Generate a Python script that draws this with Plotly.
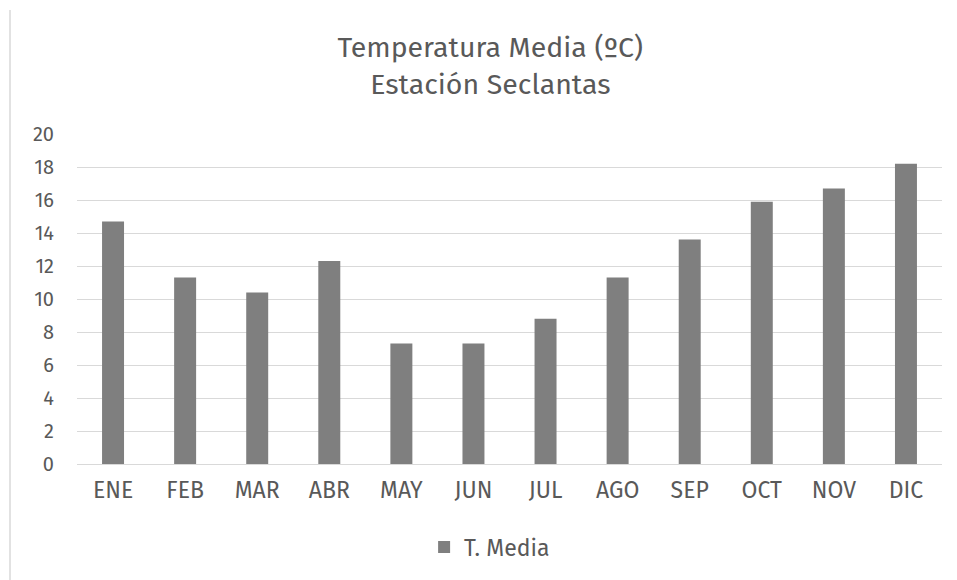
import plotly.graph_objects as go

months = ["ENE", "FEB", "MAR", "ABR", "MAY", "JUN", "JUL", "AGO", "SEP", "OCT", "NOV", "DIC"]
t_media = [14.7, 11.3, 10.4, 12.3, 7.3, 7.3, 8.8, 11.3, 13.6, 15.9, 16.7, 18.2]
y_ticks = [0, 2, 4, 6, 8, 10, 12, 14, 16, 18, 20]

FONT = "Fira Sans, Noto Sans, Open Sans, sans-serif"
TXT = "#595959"

fig = go.Figure()
fig.add_trace(go.Bar(x=months, y=t_media, name="T. Media", marker_color="#7f7f7f",
                     marker_line_width=0))

W, H = 957, 580
L, R, T, B = 69, 23, 126, 124
pw = W - L - R
ph = H - T - B

fig.update_layout(
    width=W, height=H,
    margin=dict(l=L, r=R, t=T, b=B, autoexpand=False),
    paper_bgcolor="white", plot_bgcolor="white",
    bargap=0.695,
    font=dict(family=FONT, color=TXT, size=16),
    title=dict(text="Temperatura Media (ºC)<br>Estación Seclantas",
               x=0.504, xanchor="center", y=0.916, yanchor="middle",
               font=dict(size=28.5, color=TXT, family=FONT)),
    showlegend=True,
    legend=dict(orientation="h", x=0.477, xanchor="center", y=(H - B - 539) / ph,
                yanchor="middle", font=dict(size=23, color=TXT), itemwidth=30),
    xaxis=dict(showgrid=False, showline=False, ticks="", tickfont=dict(size=23, color=TXT),
               ticklabelstandoff=10),
    yaxis=dict(range=[0, 20], tickvals=y_ticks, showgrid=True, gridcolor="#d9d9d9",
               gridwidth=1.3, zeroline=True, zerolinecolor="#d9d9d9", zerolinewidth=1.3,
               showline=False, ticks="", tickfont=dict(size=20, color=TXT),
               ticklabelstandoff=22),
)

# thin gray frame line at left of chart area
fig.add_shape(type="line", xref="paper", yref="paper",
              x0=(2 - L) / pw, x1=(2 - L) / pw,
              y0=(H - B - 580) / ph, y1=(H - B - 2) / ph,
              line=dict(color="#d9d9d9", width=1.5))

fig.write_html("out.html")
